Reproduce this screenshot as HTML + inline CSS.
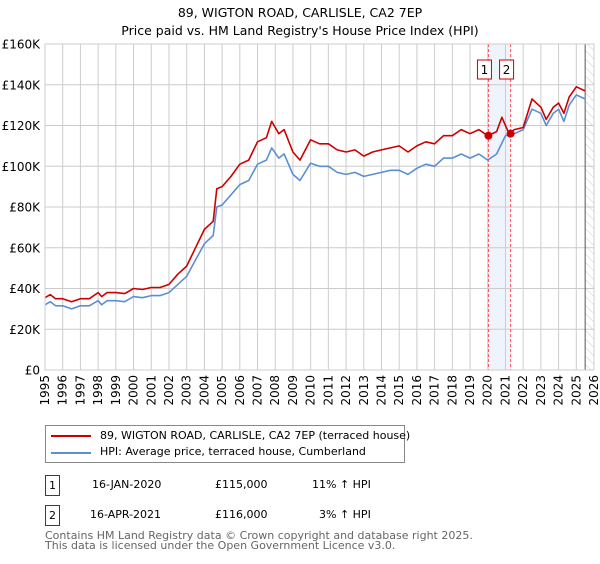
<!DOCTYPE html>
<html><head><meta charset="utf-8"><style>
body{margin:0;background:#fff;font-family:"DejaVu Sans","Liberation Sans",sans-serif;}
svg text{font-family:"DejaVu Sans","Liberation Sans",sans-serif;}
</style></head><body>
<svg id="c" width="600" height="560" xmlns="http://www.w3.org/2000/svg">
<defs><pattern id="hatch" width="6" height="6" patternUnits="userSpaceOnUse" patternTransform="rotate(-45)"><line x1="0" y1="0" x2="0" y2="6" stroke="#ccc" stroke-width="1"/></pattern></defs>
<text x="300" y="17" text-anchor="middle" font-size="12.5">89, WIGTON ROAD, CARLISLE, CA2 7EP</text>
<text x="300" y="35" text-anchor="middle" font-size="12.5">Price paid vs. HM Land Registry's House Price Index (HPI)</text>
<g id="grid"></g><g id="marks"></g>
</svg>
<script>
const yTicks=[0,20,40,60,80,100,120,140,160];
const yTickLabels=["£0","£20K","£40K","£60K","£80K","£100K","£120K","£140K","£160K"];
const xYears=[1995,1996,1997,1998,1999,2000,2001,2002,2003,2004,2005,2006,2007,2008,2009,2010,2011,2012,2013,2014,2015,2016,2017,2018,2019,2020,2021,2022,2023,2024,2025,2026];
const hpiT=[1995,1995.3,1995.6,1996,1996.5,1997,1997.5,1998,1998.2,1998.5,1999,1999.5,2000,2000.5,2001,2001.5,2002,2002.5,2003,2003.5,2004,2004.5,2004.7,2005,2005.5,2006,2006.5,2007,2007.5,2007.8,2008.2,2008.5,2009,2009.4,2010,2010.5,2011,2011.5,2012,2012.5,2013,2013.5,2014,2014.5,2015,2015.5,2016,2016.5,2017,2017.5,2018,2018.5,2019,2019.5,2020,2020.5,2021,2021.5,2022,2022.5,2023,2023.3,2023.7,2024,2024.3,2024.6,2025,2025.5];
const hpiV=[32,33.5,31.5,31.5,30,31.5,31.5,34,32,34,34,33.5,36,35.5,36.5,36.5,38,42,46,54,62,66,80,81,86,91,93,101,103,109,104,106,96,93,101.5,100,100,97,96,97,95,96,97,98,98,96,99,101,100,104,104,106,104,106,103,106,115,116,118,128,126,120,126,128,122,130,135,133];
const ppT=[1995,1995.3,1995.6,1996,1996.5,1997,1997.5,1998,1998.2,1998.5,1999,1999.5,2000,2000.5,2001,2001.5,2002,2002.5,2003,2003.5,2004,2004.5,2004.7,2005,2005.5,2006,2006.5,2007,2007.5,2007.8,2008.2,2008.5,2009,2009.4,2010,2010.5,2011,2011.5,2012,2012.5,2013,2013.5,2014,2014.5,2015,2015.5,2016,2016.5,2017,2017.5,2018,2018.5,2019,2019.5,2020,2020.5,2020.8,2021.2,2021.5,2022,2022.5,2023,2023.3,2023.7,2024,2024.3,2024.6,2025,2025.5];
const ppV=[35.5,37,35,35,33.5,35,35,38,36,38,38,37.5,40,39.5,40.5,40.5,42,47,51,60,69,73,89,90,95,101,103,112,114,122,116,118,107,103,113,111,111,108,107,108,105,107,108,109,110,107,110,112,111,115,115,118,116,118,115,117,124,116,118,119,133,129,123,129,131,126,134,139,137];
const saleT=[2020.04,2021.29];
const saleV=[115,116];
const saleLabels=["1","2"];
const X0=45,X1=594,Y0=370,Y1=44;
const xs=t=>X0+(t-1995)*(X1-X0)/31;
const ys=v=>Y0-v*(Y0-Y1)/160;
const NS="http://www.w3.org/2000/svg";
const grid=document.getElementById('grid'),marks=document.getElementById('marks');
function mk(tag,at,par){const e=document.createElementNS(NS,tag);for(const k in at)e.setAttribute(k,at[k]);par.appendChild(e);return e;}
let band=mk('rect',{x:xs(saleT[0]),y:Y1,width:xs(saleT[1])-xs(saleT[0]),height:Y0-Y1,fill:'#eef3fc'},grid);


let hat=mk('rect',{x:xs(2025.5),y:Y1,width:X1-xs(2025.5),height:Y0-Y1,fill:'url(#hatch)'},grid);


yTicks.forEach((v,i)=>{
 let l=mk('line',{x1:X0,x2:X1,y1:ys(v),y2:ys(v),stroke:'#ccc','stroke-width':1},grid);
 
 
 let t=mk('text',{x:40,y:ys(v)+4.5,'text-anchor':'end','font-size':12},grid);t.textContent=yTickLabels[i];
 
 
});
xYears.forEach(yr=>{
 let l=mk('line',{x1:xs(yr),x2:xs(yr),y1:Y1,y2:Y0,stroke:'#ccc','stroke-width':1},grid);
 
 
 let t=mk('text',{x:0,y:0,'text-anchor':'end','font-size':12,transform:`translate(${xs(yr)+4},375) rotate(-90)`},grid);
 t.textContent=yr;
 
 
});
let nl=mk('line',{x1:xs(2025.5),x2:xs(2025.5),y1:Y1,y2:Y0,stroke:'#555','stroke-width':1},grid);


saleT.forEach((t,i)=>{
 let l=mk('line',{x1:xs(t),x2:xs(t),y1:Y1,y2:Y0,stroke:'#f55','stroke-width':1,'stroke-dasharray':'3,2'},grid);
 
 
});
function path(T,V,col,name){
 let d=T.map((t,i)=>(i?'L':'M')+xs(t).toFixed(1)+' '+ys(V[i]).toFixed(1)).join(' ');
 let p=mk('path',{d:d,fill:'none',stroke:col,'stroke-width':1.6,'stroke-linejoin':'round'},marks);
 
 
}
path(hpiT,hpiV,'#5b8fd4','hpi-line');
path(ppT,ppV,'#cc0000','price-paid-line');
saleT.forEach((t,i)=>{
 let c=mk('circle',{cx:xs(t),cy:ys(saleV[i]),r:4,fill:'#cc0000'},marks);
 
 
 let r=mk('rect',{x:xs(t)-11,y:60,width:14,height:19,fill:'#fff',stroke:'#cc0000','stroke-width':1},marks);
 
 
 let tx=mk('text',{x:xs(t)-4,y:74,'text-anchor':'middle','font-size':12},marks);tx.textContent=saleLabels[i];
 
 
});
let bx=mk('rect',{x:X0,y:Y1,width:X1-X0,height:Y0-Y1,fill:'none',stroke:'#ccc'},marks);


</script>
<div style="position:absolute;left:45px;top:425px;width:358px;height:36px;border:1px solid #888;font-size:11px;">
 <div style="position:absolute;left:5px;top:9px;width:40px;height:2px;background:#cc0000"></div>
 <div style="position:absolute;left:54px;top:3px;white-space:nowrap">89, WIGTON ROAD, CARLISLE, CA2 7EP (terraced house)</div>
 <div style="position:absolute;left:5px;top:26px;width:40px;height:2px;background:#5b8fd4"></div>
 <div style="position:absolute;left:54px;top:19px;white-space:nowrap">HPI: Average price, terraced house, Cumberland</div>
</div>
<div style="position:absolute;left:45px;top:475px;width:13px;height:19px;border:1px solid #cc0000;font-size:11px;text-align:center;line-height:19px">1</div>
<div style="position:absolute;left:92px;top:478px;font-size:11px">16-JAN-2020</div>
<div style="position:absolute;left:215px;top:478px;font-size:11px">£115,000</div>
<div style="position:absolute;left:312px;top:478px;font-size:11px">11% ↑ HPI</div>
<div style="position:absolute;left:45px;top:505px;width:13px;height:19px;border:1px solid #cc0000;font-size:11px;text-align:center;line-height:19px">2</div>
<div style="position:absolute;left:90px;top:508px;font-size:11px">16-APR-2021</div>
<div style="position:absolute;left:215px;top:508px;font-size:11px">£116,000</div>
<div style="position:absolute;left:319px;top:508px;font-size:11px">3% ↑ HPI</div>
<div style="position:absolute;left:45px;top:531px;font-size:11px;color:#666;line-height:10px;white-space:nowrap">Contains HM Land Registry data © Crown copyright and database right 2025.<br>This data is licensed under the Open Government Licence v3.0.</div>
</body></html>
